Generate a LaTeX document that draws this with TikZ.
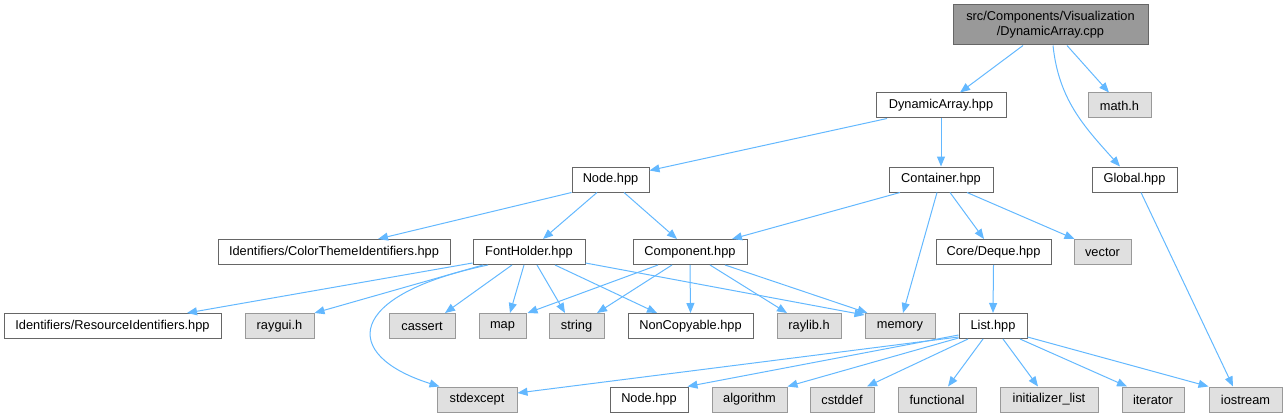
\documentclass[tikz,border=0pt]{standalone}
\usepackage{fontspec}
\setmainfont{Liberation Sans}
\usetikzlibrary{arrows.meta,calc}
\definecolor{edgeblue}{HTML}{63B8FF}
\definecolor{darkborder}{HTML}{666666}
\definecolor{lightborder}{HTML}{999999}
\definecolor{greyfill}{HTML}{E0E0E0}
\definecolor{rootfill}{HTML}{999999}
\begin{document}
\begin{tikzpicture}[x=1pt,y=-1pt,
  every node/.style={inner sep=0pt,font=\fontsize{12.8}{15}\selectfont},
  wbox/.style={draw=darkborder,fill=white,line width=1pt,minimum height=25pt},
  gbox/.style={draw=lightborder,fill=greyfill,line width=1pt,minimum height=25pt},
  rbox/.style={draw=darkborder,fill=rootfill,line width=1pt,minimum height=40pt,align=center},
  e/.style={draw=edgeblue,line width=1pt,-{Triangle[length=10pt,width=8pt]}}]
\useasboundingbox (0,0) rectangle (1287,417);
% nodes
\node[rbox,minimum width=195pt] (root) at (1050.5,25) {src/Components/Visualization\\/DynamicArray.cpp};
\node[wbox,minimum width=130pt] (da) at (941,105.5) {DynamicArray.hpp};
\node[gbox,minimum width=63pt] (mathh) at (1119.5,105.5) {math.h};
\node[wbox,minimum width=104pt] (container) at (941,179.5) {Container.hpp};
\node[wbox,minimum width=85pt] (global) at (1134.5,179.5) {Global.hpp};
\node[wbox,minimum width=77pt] (nodeA) at (610.5,179.5) {Node.hpp};
\node[wbox,minimum width=232pt] (color) at (334,252) {Identifiers/ColorThemeIdentifiers.hpp};
\node[wbox,minimum width=112pt] (font) at (529,252) {FontHolder.hpp};
\node[wbox,minimum width=114pt] (comp) at (690,252) {Component.hpp};
\node[wbox,minimum width=115pt] (deque) at (993.5,252) {Core/Deque.hpp};
\node[gbox,minimum width=57pt] (vector) at (1102.5,252) {vector};
\node[wbox,minimum width=217pt] (resid) at (112.5,326) {Identifiers/ResourceIdentifiers.hpp};
\node[gbox,minimum width=69pt] (raygui) at (279.5,326) {raygui.h};
\node[gbox,minimum width=66pt] (cassert) at (422,326) {cassert};
\node[gbox,minimum width=47pt] (map) at (502.5,326) {map};
\node[gbox,minimum width=55pt] (string) at (576.5,326) {string};
\node[wbox,minimum width=125pt] (noncop) at (690.5,326) {NonCopyable.hpp};
\node[gbox,minimum width=64pt] (raylib) at (809,326) {raylib.h};
\node[gbox,minimum width=70pt] (memory) at (900,326) {memory};
\node[wbox,minimum width=68pt] (list) at (993,326) {List.hpp};
\node[gbox,minimum width=80pt] (stdexcept) at (477,399.5) {stdexcept};
\node[wbox,minimum width=78pt] (nodeB) at (649,399.5) {Node.hpp};
\node[gbox,minimum width=75pt] (algorithm) at (749.5,399.5) {algorithm};
\node[gbox,minimum width=64pt] (cstddef) at (842,399.5) {cstddef};
\node[gbox,minimum width=78pt] (functional) at (937,399.5) {functional};
\node[gbox,minimum width=98pt] (initlist) at (1049,399.5) {initializer\_list};
\node[gbox,minimum width=62pt] (iterator) at (1153,399.5) {iterator};
\node[gbox,minimum width=73pt] (iostream) at (1245.5,399.5) {iostream};
% edges
\draw[e] ([xshift=-27.5pt]root.south) -- ([xshift=19pt]da.north);
\draw[e] ([xshift=16.5pt]root.south) -- ([xshift=-10.5pt]mathh.north);
\draw[e] ([xshift=2.5pt]root.south) to[out=-84,in=132] ([xshift=-14.5pt]global.north);
\draw[e] ([xshift=-54pt]da.south) -- ([yshift=9pt]nodeA.east);
\draw[e] (da.south) -- (container.north);
\draw[e] (nodeA.south west) -- ([xshift=44pt]color.north);
\draw[e] ([xshift=-13.5pt]nodeA.south) -- ([xshift=14pt]font.north);
\draw[e] ([xshift=13.5pt]nodeA.south) -- ([xshift=-13pt]comp.north);
\draw[e] ([xshift=-41pt]container.south) -- ([xshift=42pt]comp.north);
\draw[e] ([xshift=-4pt]container.south) -- ([xshift=3pt]memory.north);
\draw[e] ([xshift=9pt]container.south) -- ([xshift=-9.5pt]deque.north);
\draw[e] ([xshift=26pt]container.south) -- ([xshift=1pt]vector.north west);
\draw[e] ([xshift=6.5pt]global.south) -- ([xshift=-12.5pt]iostream.north);
\draw[e] (deque.south) -- (list.north);
\draw[e] ([yshift=2pt]font.south west) -- ([xshift=74.5pt]resid.north);
\draw[e] ([xshift=-46pt]font.south) -- (raygui.north east);
\draw[e] ([xshift=-41pt]font.south) .. controls (345,295) and (340,355) .. ([xshift=3pt]stdexcept.north west);
\draw[e] ([xshift=-17pt]font.south) -- ([xshift=23pt]cassert.north);
\draw[e] ([xshift=-5pt]font.south) -- ([xshift=7.5pt]map.north);
\draw[e] ([xshift=8pt]font.south) -- ([xshift=-11.5pt]string.north);
\draw[e] ([xshift=26pt]font.south) -- ([xshift=-33.5pt]noncop.north);
\draw[e] ([yshift=2pt]font.south east) -- ([yshift=-2pt]memory.north west);
\draw[e] ([xshift=-32pt]comp.south) -- ([xshift=1pt]map.north east);
\draw[e] ([xshift=-18pt]comp.south) -- ([xshift=20.5pt]string.north);
\draw[e] (comp.south) -- (noncop.north);
\draw[e] ([xshift=20pt]comp.south) -- ([xshift=-22pt]raylib.north);
\draw[e] ([xshift=35pt]comp.south) -- ([xshift=3pt]memory.north west);
\draw[e] ([yshift=2pt]list.south west) -- ([yshift=6.5pt]stdexcept.east);
\draw[e] ([yshift=4pt]list.south west) -- ([xshift=-1pt]nodeB.north east);
\draw[e] ([yshift=1pt]list.south west) -- (algorithm.north east);
\draw[e] ([xshift=-25pt]list.south) -- ([xshift=25pt]cstddef.north);
\draw[e] ([xshift=-10pt]list.south) -- ([xshift=11pt]functional.north);
\draw[e] ([xshift=10pt]list.south) -- ([xshift=-11pt]initlist.north);
\draw[e] ([xshift=27pt]list.south) -- ([xshift=-26pt]iterator.north);
\draw[e] ([yshift=2pt]list.south east) -- (iostream.north west);
\end{tikzpicture}
\end{document}
